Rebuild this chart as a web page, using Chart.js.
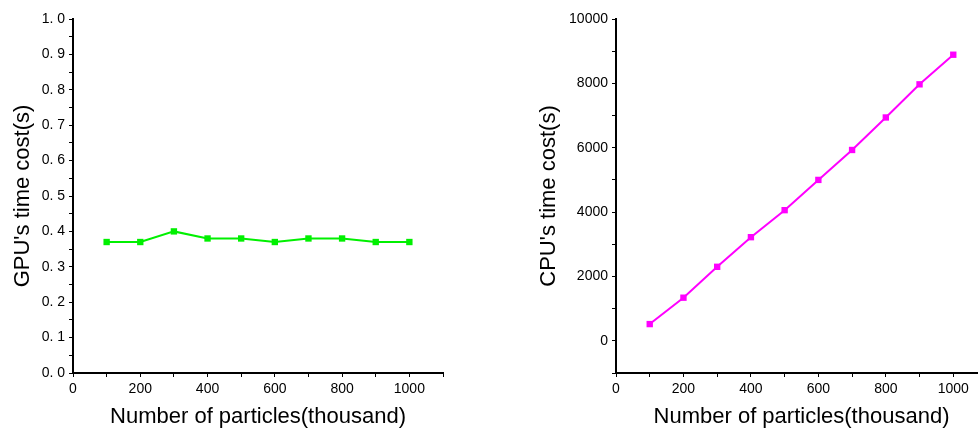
<!DOCTYPE html>
<html>
<head>
<meta charset="utf-8">
<script src="https://cdn.jsdelivr.net/npm/chart.js@4.4.0/dist/chart.umd.min.js"></script>
<style>
  html, body { margin: 0; padding: 0; background: #fff; overflow: hidden; }
  #wrap { position: relative; width: 978px; height: 430px; overflow: hidden; }
  #gpu-box { position: absolute; left: 0; top: 0; width: 452px; height: 430px; }
  #cpu-box { position: absolute; left: 500px; top: 0; width: 500px; height: 430px; }
</style>
</head>
<body>
<div id="wrap">
  <div id="gpu-box"><canvas id="gpu-chart"></canvas></div>
  <div id="cpu-box"><canvas id="cpu-chart"></canvas></div>
</div>
<script>
// données
const particles = [100, 200, 300, 400, 500, 600, 700, 800, 900, 1000];
const gpuTime = [0.37, 0.37, 0.40, 0.38, 0.38, 0.37, 0.38, 0.38, 0.37, 0.37];
const cpuTime = [520, 1340, 2300, 3220, 4060, 5000, 5930, 6940, 7970, 8890];

const xLabels = [0, 200, 400, 600, 800, 1000];
const gpuLabels = [0, 0.1, 0.2, 0.3, 0.4, 0.5, 0.6, 0.7, 0.8, 0.9, 1.0];
const cpuLabels = [0, 2000, 4000, 6000, 8000, 10000];

const xTitle = "Number of particles(thousand)";

function points(ys) {
    return particles.map((x, i) => ({ x: x, y: ys[i] }));
}

function hasLabel(list, v) {
    return list.some((l) => Math.abs(l - v) < 1e-6);
}

function makeChart(canvasId, data, color, yTitle, yMin, yMax, yStep, yLabelList, yFmt, yWidth, titlePad, rightPad) {
    const ctx = document.getElementById(canvasId).getContext("2d");
    return new Chart(ctx, {
        type: "line",
        data: {
            datasets: [
                {
                    data: points(data),
                    borderColor: color,
                    backgroundColor: color,
                    borderWidth: 2,
                    pointStyle: "rect",
                    pointRadius: 4.5,
                    pointBorderWidth: 0,
                    fill: false,
                    tension: 0,
                },
            ],
        },
        options: {
            responsive: true,
            maintainAspectRatio: false,
            animation: false,
            layout: { padding: { top: 19, right: rightPad, left: 0, bottom: 0 } },
            plugins: { legend: { display: false }, tooltip: { enabled: false } },
            scales: {
                x: {
                    type: "linear",
                    min: 0,
                    max: 1100,
                    border: { color: "#000", width: 2 },
                    grid: { drawOnChartArea: false, drawTicks: true, tickLength: 4, color: "#000", lineWidth: 1 },
                    ticks: {
                        stepSize: 100,
                        autoSkip: false,
                        maxRotation: 0,
                        padding: 4,
                        color: "#000",
                        font: { family: "Liberation Sans", size: 14 },
                        callback: (v) => (hasLabel(xLabels, v) ? String(v) : ""),
                    },
                    title: {
                        display: true,
                        text: xTitle,
                        color: "#000",
                        font: { family: "Liberation Sans", size: 22 },
                        padding: { top: 2, bottom: 0 },
                    },
                    afterFit: (scale) => { scale.height = 57; },
                },
                y: {
                    type: "linear",
                    min: yMin,
                    max: yMax,
                    border: { color: "#000", width: 2 },
                    grid: { drawOnChartArea: false, drawTicks: true, tickLength: 4, color: "#000", lineWidth: 1 },
                    ticks: {
                        stepSize: yStep,
                        autoSkip: false,
                        padding: 4,
                        color: "#000",
                        font: { family: "Liberation Sans", size: 14 },
                        callback: (v) => (hasLabel(yLabelList, v) ? yFmt(v) : ""),
                    },
                    title: {
                        display: true,
                        text: yTitle,
                        color: "#000",
                        font: { family: "Liberation Sans", size: 22 },
                        padding: { top: titlePad, bottom: 0 },
                    },
                    afterFit: (scale) => { scale.width = yWidth; },
                },
            },
        },
    });
}

makeChart("gpu-chart", gpuTime, "#00f000", "GPU's time cost(s)", 0, 1.0, 0.05, gpuLabels,
    (v) => v.toFixed(1).replace(".", ". "), 73, 10, 9);
makeChart("cpu-chart", cpuTime, "#ff00ff", "CPU's time cost(s)", -1000, 10000, 1000, cpuLabels,
    (v) => String(v), 116, 36, 13);
</script>
</body>
</html>
